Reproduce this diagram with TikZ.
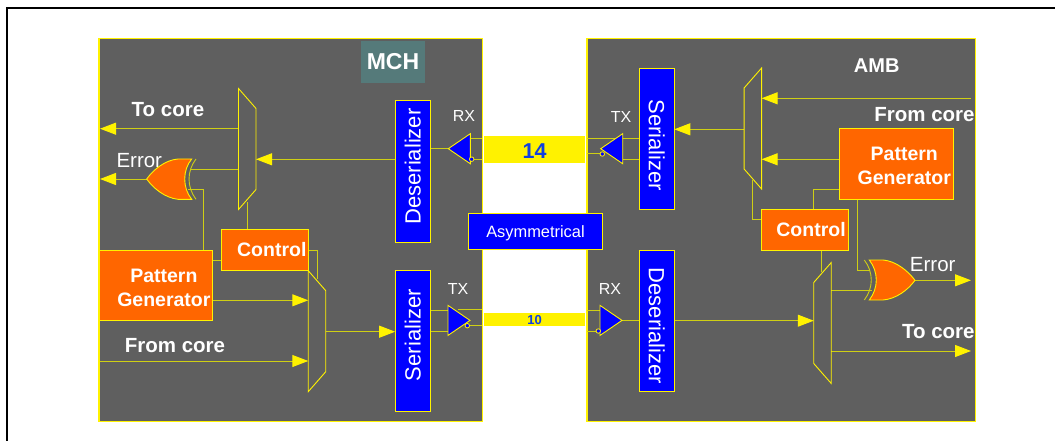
\documentclass[tikz,border=0pt]{standalone}
\usepackage{fontspec}
\setmainfont{Liberation Sans}
\usepackage{tikz}
\usetikzlibrary{
  shapes.geometric,
  arrows.meta,
  positioning, calc,
  backgrounds
}
\usepackage{xcolor}
\definecolor{panelgray}{HTML}{5F5F5F}
\definecolor{wireolive}{HTML}{CFCF14}
\definecolor{hotorange}{HTML}{FF6600}
\definecolor{tagteal}{HTML}{557A7A}
\definecolor{busblue}{HTML}{1040E0}

\begin{document}
\begin{tikzpicture}[
  x=1pt, y=-1pt,
  panel/.style={draw=yellow, fill=panelgray, line width=1.3pt, inner sep=0pt, outer sep=0pt},
  bluebox/.style={draw=yellow, fill=blue, text=white, line width=1pt, inner sep=0pt, outer sep=0pt,
                  minimum width=141pt, minimum height=35pt,
                  font=\fontsize{22}{24}\selectfont},
  orgbox/.style={draw=yellow, fill=hotorange, text=white, line width=1pt, inner sep=0pt, outer sep=0pt,
                 align=center, font=\fontsize{19.5}{24}\selectfont\bfseries},
  mux/.style={trapezium, trapezium stretches body=true, trapezium angle=41.2, draw=yellow, line width=0.9pt,
              inner sep=8.75pt, outer sep=0pt, minimum width=121pt, minimum height=17.5pt},
  buf/.style={isosceles triangle, isosceles triangle stretches=true, draw=yellow, fill=blue, line width=0.9pt,
              inner sep=1pt, outer sep=0pt, minimum width=30pt, minimum height=22pt},
  bub/.style={circle, draw=yellow, fill=blue, line width=0.8pt, inner sep=0pt, minimum size=4.5pt},
  bus/.style={fill=yellow, text=busblue, inner sep=0pt, outer sep=0pt, minimum width=101.3pt, font=\bfseries},
  gate/.style={draw=yellow, fill=hotorange, line width=0.9pt},
  wire/.style={draw=wireolive, line width=1pt},
  sig/.style={wire, -{Triangle[length=16pt,width=12pt,color=yellow,fill=yellow]}},
  blab/.style={text=white, inner sep=0pt, font=\fontsize{20.5}{24}\selectfont\bfseries},
  nlab/.style={text=white, inner sep=0pt, font=\fontsize{20.5}{24}\selectfont},
  pinlab/.style={text=white, inner sep=0pt, font=\fontsize{16}{18}\selectfont}
]
  \useasboundingbox (0,0) rectangle (1055,441);

  %--- outer frame ---
  \coordinate (frameb) at (7,441);
  \coordinate (framec) at (7,8);
  \coordinate (framer) at (1055,8);
  \draw[black, line width=2.2pt] (frameb) -- (framec) -- (framer);

  %--- panels ---
  \begin{scope}[on background layer]
    \node[panel, minimum width=383.7pt, minimum height=383.2pt] (mch) at (290.85,230.1) {};
    \node[panel, minimum width=388.3pt, minimum height=383.2pt] (amb) at (781.15,230.1) {};
  \end{scope}
  \node[fill=tagteal, text=white, inner sep=0pt, minimum width=64pt, minimum height=41.7pt,
        font=\fontsize{23}{24}\selectfont\bfseries] (mchtag) at (393,61.8) {MCH};
  \node[blab, font=\fontsize{20}{24}\selectfont\bfseries] (ambtag) at (876.7,66) {AMB};

  %--- MCH side ---
  \node[bluebox, rotate=90] (dsera) at (412.7,171.5) {\hspace*{10pt}Deserializer};
  \node[bluebox, rotate=90] (sera) at (412.7,341.2) {\hspace*{12pt}Serializer};
  \node[mux, rotate=-90] (muxa) at (247.25,149) {};
  \node[mux, rotate=-90] (muxb) at (317,331.2) {};
  \node[orgbox, minimum width=87pt, minimum height=40.6pt, text width=87pt] (ctla) at (264.8,250)
    {\hspace*{14pt}Control};
  \node[orgbox, minimum width=113.7pt, minimum height=70pt, text width=113.7pt] (pga) at (155.85,285.3)
    {\rule{0pt}{18pt}\hspace*{16pt}Pattern\\\hspace*{16pt}Generator};
  \node[blab] (tocorea) at (168,109.3) {To core};
  \node[nlab] (erra) at (139.3,161) {Error};
  \node[blab] (fromcorea) at (175,345.7) {From core};

  %--- gate on MCH side ---
  \coordinate (xora) at (146.7,179);
  \draw[gate] (191.7,159) -- (178,159) .. controls (165,160) and (153,170) .. (xora)
    .. controls (153,188) and (165,198) .. (178,199.3) -- (191.7,199.3)
    .. controls (182.4,188) and (182.4,170) .. cycle;
  \draw[wireolive, line width=0.9pt] (196,159) .. controls (186.7,171) and (186.7,187) .. (196,199.3);

  %--- link in the middle ---
  \node[bus, minimum height=27pt, text height=18pt, font=\fontsize{21.5}{24}\selectfont\bfseries] (busa) at (534.65,149.5) {14};
  \node[bus, minimum height=13pt, text height=11pt, font=\fontsize{13}{14}\selectfont\bfseries] (busb) at (534.65,319.5) {10};
  \node[draw=yellow, fill=blue, text=white, line width=1pt, inner sep=0pt, minimum width=134.4pt,
        minimum height=35.3pt, text depth=0pt, font=\fontsize{16.4}{18}\selectfont] (asym) at (535.5,231.6) {Asymmetrical};

  \node[buf, shape border rotate=180, anchor=apex] (rxa) at (448.3,148.7) {};
  \node[bub] (rxabub) at (471.7,159.2) {};
  \node[pinlab] (rxalab) at (464,115.7) {RX};
  \node[buf, anchor=apex] (txa) at (470,320.4) {};
  \node[bub] (txabub) at (467.3,325.7) {};
  \node[pinlab] (txalab) at (458,288.7) {TX};
  \node[buf, shape border rotate=180, anchor=apex] (txb) at (600.7,148.7) {};
  \node[bub] (txbbub) at (602.3,154) {};
  \node[pinlab] (txblab) at (621,117) {TX};
  \node[buf, anchor=apex] (rxb) at (622,320.4) {};
  \node[bub] (rxbbub) at (598.3,331) {};
  \node[pinlab] (rxblab) at (610,288.7) {RX};

  %--- AMB side ---
  \node[bluebox, rotate=-90] (serb) at (656.8,139.2) {\hspace*{12pt}Serializer};
  \node[bluebox, rotate=-90] (dserb) at (656.8,320.8) {\hspace*{10pt}Deserializer};
  \node[mux, rotate=90] (muxc) at (752.85,128.5) {};
  \node[mux, rotate=90] (muxd) at (822.5,323) {};
  \node[orgbox, minimum width=114pt, minimum height=70.6pt, text width=114pt] (pgb) at (896.3,164)
    {\rule{0pt}{18pt}\hspace*{16pt}Pattern\\\hspace*{16pt}Generator};
  \node[orgbox, minimum width=87pt, minimum height=40.6pt, text width=87pt] (ctlb) at (804.8,230)
    {\hspace*{12.4pt}Control};
  \node[blab] (fromcoreb) at (924.5,114.3) {From core};
  \node[blab] (tocoreb) at (938.3,332) {To core};
  \node[nlab] (errb) at (932.7,264.3) {Error};

  %--- gate on AMB side ---
  \coordinate (xorb) at (915,280.3);
  \draw[gate] (869.3,260) -- (883,260) .. controls (896,261) and (908,271) .. (xorb)
    .. controls (908,290) and (896,299) .. (883,300) -- (869.3,300)
    .. controls (878.6,288) and (878.6,272) .. cycle;
  \draw[wireolive, line width=0.9pt] (864.3,260) .. controls (873.6,272) and (873.6,288) .. (864.3,300);

  %--- free ends of the connectors ---
  \coordinate (lefta) at (100,128.7);
  \coordinate (leftb) at (100,179);
  \coordinate (leftc) at (99.5,361);
  \coordinate (righta) at (971,98.3);
  \coordinate (rightb) at (971,280.3);
  \coordinate (rightc) at (971,351);
  \coordinate (xorain) at (190,169.3);
  \coordinate (xorapg) at (188,189);
  \coordinate (xorbpg) at (870,270);
  \coordinate (xorbmx) at (871.7,290);
  \coordinate (busal) at (482,138.7);
  \coordinate (busalb) at (482,159.2);
  \coordinate (busar) at (587,138.3);
  \coordinate (busarb) at (587,154);
  \coordinate (busbl) at (482,309.3);
  \coordinate (busblb) at (482,325.7);
  \coordinate (busbr) at (587,310.7);
  \coordinate (busbrb) at (587,331);
  \coordinate (txastub) at (458,309.3);
  \coordinate (ctlaout) at (317,250.3);
  \coordinate (ctlamux) at (317,279.3);
  \coordinate (muxdtop) at (821.7,272);
  \coordinate (muxctl) at (752.3,180);
  \coordinate (muxctlb) at (752.3,219.3);
  \coordinate (pgbctl) at (813.3,189);
  \coordinate (pgbxor) at (857.3,270);
  \coordinate (pgaxor) at (203.7,189);

  %--- connectors ---
  \begin{scope}[on background layer]
    \draw[sig] (muxa.south |- lefta) -- (lefta);
    \draw[sig] (xora) -- (leftb);
    \draw[sig] (dsera.north |- 0,159.3) -- (muxa.north |- 0,159.3);
    \draw[wire] (muxa.south |- xorain) -- (xorain);
    \draw[wire] (pga.north -| pgaxor) -- (pgaxor) -- (xorapg);
    \draw[wire] (muxa.center |- ctla.north) -- (muxa.center |- 0,201.7);
    \draw[wire] (pga.east |- 0,260.3) -- (ctla.west |- 0,260.3);
    \draw[wire] (ctla.east |- ctlaout) -- (ctlaout) -- (ctlamux);
    \draw[sig] (pga.east |- 0,300.3) -- (muxb.south |- 0,300.3);
    \draw[sig] (leftc) -- (muxb.south |- leftc);
    \draw[sig] (muxb.north |- 0,331.7) -- (sera.north |- 0,331.7);

    \draw[wire] (rxa.apex) -- (dsera.south |- rxa.apex);
    \draw[wire] (rxa.east |- busal) -- (busal);
    \draw[wire] (rxabub) -- (busalb);
    \draw[wire] (sera.south |- 0,310.3) -- (txa.west |- 0,310.3);
    \draw[wire] (sera.south |- 0,331) -- (txa.west |- 0,331);
    \draw[wire] (txastub) -- (busbl);
    \draw[wire] (txabub) -- (busblb);

    \draw[wire] (busar) -- (txb.east |- busar);
    \draw[wire] (busarb) -- (txbbub);
    \draw[wire] (txb.east |- 0,138.7) -- (serb.south |- 0,138.7);
    \draw[wire] (txb.east |- 0,159.3) -- (serb.south |- 0,159.3);
    \draw[wire] (busbr) -- (rxb.west |- busbr);
    \draw[wire] (busbrb) -- (rxbbub);
    \draw[wire] (rxb.apex) -- (dserb.south |- rxb.apex);

    \draw[sig] (muxc.north |- 0,129.3) -- (serb.north |- 0,129.3);
    \draw[sig] (righta) -- (muxc.south |- righta);
    \draw[sig] (pgb.west |- 0,159.3) -- (muxc.south |- 0,159.3);
    \draw[wire] (muxctl) -- (muxctlb) -- (ctlb.west |- muxctlb);
    \draw[wire] (pgb.west |- pgbctl) -- (pgbctl) -- (ctlb.north -| pgbctl);
    \draw[wire] (pgb.south -| pgbxor) -- (pgbxor) -- (xorbpg);
    \draw[wire] (ctlb.south -| muxdtop) -- (muxdtop);
    \draw[wire] (muxd.south |- xorbmx) -- (xorbmx);
    \draw[sig] (xorb) -- (rightb);
    \draw[sig] (dserb.north |- 0,320.7) -- (muxd.north |- 0,320.7);
    \draw[sig] (muxd.south |- rightc) -- (rightc);
  \end{scope}
\end{tikzpicture}
\end{document}
